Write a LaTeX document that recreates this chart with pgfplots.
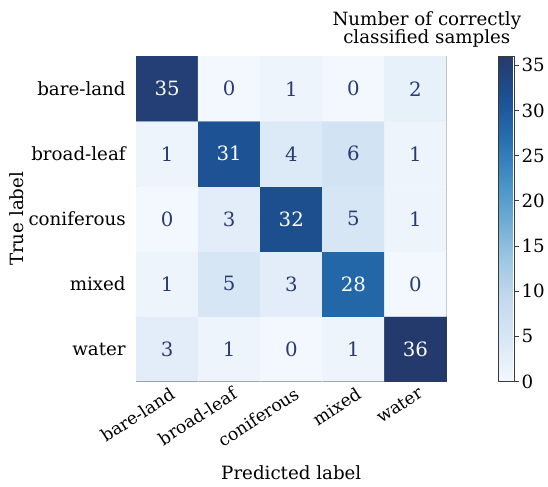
\documentclass[border=0pt]{standalone}
\usepackage{fontspec}
\setmainfont{DejaVu Serif}
\usepackage{pgfplots}
\pgfplotsset{compat=1.18}
\usepackage{pgfplotstable}

\definecolor{framegray}{HTML}{3A3A3A}
\definecolor{celltext}{HTML}{2A3B72}

% confusion matrix: x = predicted class, y = true class (bare-land at the top)
\pgfplotstableread{
x y c
0 0 3
1 0 1
2 0 0
3 0 1
4 0 36
0 1 1
1 1 5
2 1 3
3 1 28
4 1 0
0 2 0
1 2 3
2 2 32
3 2 5
4 2 1
0 3 1
1 3 31
2 3 4
3 3 6
4 3 1
0 4 35
1 4 0
2 4 1
3 4 0
4 4 2
}\confmat

\newcommand{\labfont}{\fontsize{18.5}{21}\selectfont}

\begin{document}
\begin{tikzpicture}
\begin{axis}[
  scale only axis,
  width=315pt, height=330pt,
  xmin=-0.5, xmax=4.5, ymin=-0.5, ymax=4.5,
  xtick={0,1,2,3,4},
  ytick={0,1,2,3,4},
  xticklabels={bare-land,broad-leaf,coniferous,mixed,water},
  yticklabels={water,mixed,coniferous,broad-leaf,bare-land},
  tick align=inside,
  xtick pos=bottom, ytick pos=left,
  major tick length=8pt,
  tick style={framegray, line width=0.9pt},
  axis line style={framegray, line width=0.8pt},
  ticklabel style={font=\labfont, text=black},
  xticklabel style={font=\fontsize{17.5}{20}\selectfont, rotate=33, anchor=north east, inner sep=1pt, yshift=-4pt},
  yticklabel style={xshift=-7pt},
  xlabel={Predicted label},
  ylabel={True label},
  label style={font=\labfont},
  xlabel style={at={(axis description cs:0.5,-0.279)}, anchor=center},
  ylabel style={at={(axis description cs:-0.385,0.5)}, anchor=center},
  colormap={cmblues}{
    rgb255=(243,248,254)
    rgb255=(217,232,246)
    rgb255=(196,218,239)
    rgb255=(158,199,225)
    rgb255=(108,170,212)
    rgb255=(66,143,196)
    rgb255=(38,110,174)
    rgb255=(28,80,146)
    rgb255=(37,58,108)
  },
  point meta min=0, point meta max=36,
  colorbar,
  colorbar style={
    at={(parent axis.north east)}, anchor=north west,
    xshift=44pt,
    width=16pt,
    ymin=0, ymax=36,
    ytick={0,5,...,35},
    ytick pos=right,
    tick align=outside,
    major tick length=5pt,
    tick style={framegray, line width=0.8pt},
    axis line style={framegray, line width=0.8pt},
    yticklabel style={font=\labfont, /pgf/number format/assume math mode=true, xshift=-1pt},
  },
]
  \addplot[matrix plot*, mesh/cols=5, point meta=explicit]
    table[x=x, y=y, meta=c] {\confmat};
  \addplot[draw=none, mark=none,
    visualization depends on={\thisrow{c} \as \cval},
    nodes near coords={\ifdim\cval pt>18pt\color{white}\else\color{celltext}\fi\pgfmathprintnumber[assume math mode=true]{\cval}},
    every node near coord/.append style={anchor=center, font=\fontsize{20}{22}\selectfont},
    point meta=explicit]
    table[x=x, y=y, meta=c] {\confmat};
\end{axis}
\node[font=\labfont, align=center, inner sep=0pt] at (295pt,357pt)
  {Number of correctly\\[-2pt]classified samples};
\useasboundingbox (-138pt,-107pt) rectangle (410pt,387pt);
\end{tikzpicture}
\end{document}
